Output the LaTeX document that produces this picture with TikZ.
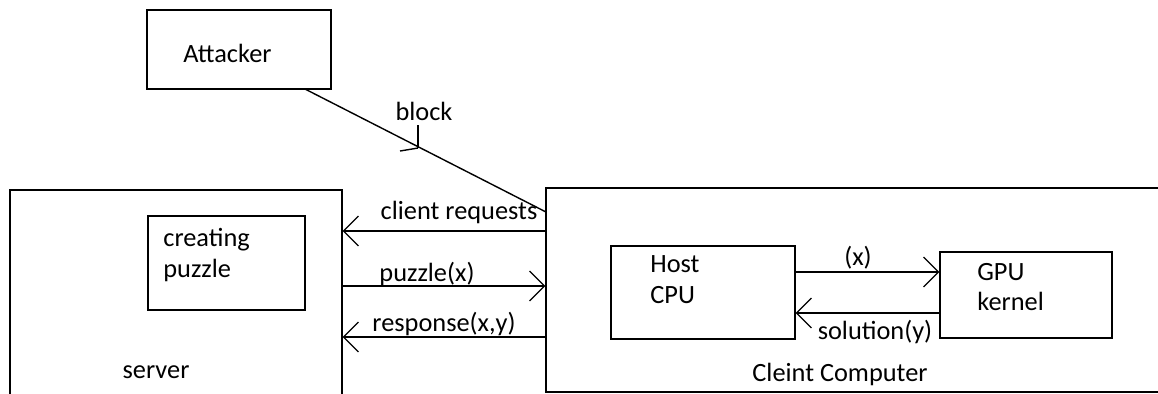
\documentclass[tikz,border=0pt]{standalone}
\usepackage{fontspec}
\setmainfont{Carlito}
\usetikzlibrary{arrows.meta}

\tikzset{
  box/.style={draw,line width=0.8pt,rectangle,inner sep=0pt},
  txt/.style={inner sep=0pt,font=\fontsize{15}{17.5}\selectfont,align=left},
  arr/.style={line width=0.8pt,-{Straight Barb[length=8.5pt,width=17pt,line width=0.7pt]}}
}

\begin{document}
\begin{tikzpicture}[x=0.02cm,y=-0.02cm]
\useasboundingbox (0,0) rectangle (1158,393);
\clip (0,0) rectangle (1158,393);

% Boxes
\node[box,minimum width=3.68cm,minimum height=1.58cm] (attacker) at (239,49.5) {};
\node[box,minimum width=6.64cm,minimum height=4.4cm] (server) at (176,300) {};
\node[box,minimum width=3.14cm,minimum height=1.88cm] (puzbox) at (226.5,263) {};
\node[box,minimum width=12.48cm,minimum height=4.08cm] (cleint) at (858,290) {};
\node[box,minimum width=3.68cm,minimum height=1.86cm] (host) at (703,292.5) {};
\node[box,minimum width=3.44cm,minimum height=1.72cm] (gpu) at (1026,295) {};

% Box texts
\node[txt,anchor=west] (attackertxt) at (183,53) {Attacker};
\node[txt,anchor=west] (puztxt) at (163,255) {creating\\puzzle};
\node[txt] (servertxt) at (156,372) {server};
\node[txt,anchor=west] (hosttxt) at (650,280) {Host\\CPU};
\node[txt,anchor=west] (gputxt) at (977,287) {GPU\\kernel};
\node[txt] (cleinttxt) at (840,374) {Cleint Computer};

% Attacker line and block mark
\coordinate (atk) at (305,89);
\coordinate (hit) at (546,212);
\coordinate (blk) at (418,148);
\draw[line width=0.8pt] (atk) -- (hit);
\node[txt] (block) at (424,111) {block};
\draw[line width=0.8pt] (blk) -- (418,125);
\draw[line width=0.8pt] (blk) -- (400,151);

% Server <-> client
\draw[arr] (cleint.west |- 0,231) -- (server.east |- 0,231);
\draw[arr] (server.east |- 0,286) -- (cleint.west |- 0,286);
\draw[arr] (cleint.west |- 0,337) -- (server.east |- 0,337);
\node[txt] (reqlbl) at (459,212) {client requests};
\node[txt] (puzlbl) at (427,274) {puzzle(x)};
\node[txt] (resplbl) at (444,324) {response(x,y)};

% Host <-> GPU
\draw[arr] (host.east |- 0,272) -- (gpu.west |- 0,272);
\draw[arr] (gpu.west |- 0,313) -- (host.east |- 0,313);
\node[txt] (xlbl) at (858,258) {(x)};
\node[txt] (sollbl) at (875,332) {solution(y)};

\end{tikzpicture}
\end{document}
